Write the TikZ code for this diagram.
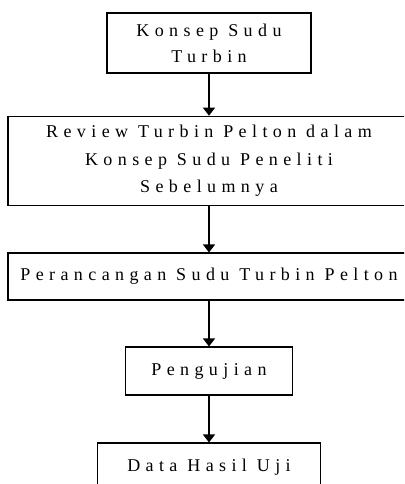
\documentclass[tikz,border=0pt]{standalone}
\usepackage{fontspec}
\setmainfont{Liberation Serif}[LetterSpace=30]
\usetikzlibrary{arrows.meta}

\tikzset{
  box/.style={draw, line width=1.1pt, align=center, inner sep=0pt, font=\fontsize{18}{26}\selectfont},
  flow/.style={-{Triangle[width=12pt,length=8pt]}, line width=1.1pt}
}

\begin{document}
\begin{tikzpicture}[x=1pt, y=-1pt]

% Frame
\useasboundingbox (0, 0) rectangle (404, 484);
\clip (0, 0) rectangle (404, 484);

% Boxes
\node[box, minimum width=204pt, minimum height=60pt] (konsep) at (209, 43) {Konsep Sudu\\Turbin};
\node[box, minimum width=402pt, minimum height=89.5pt, font=\fontsize{18}{27.5}\selectfont] (review) at (209, 161) {Review Turbin Pelton dalam\\Konsep Sudu Peneliti\\Sebelumnya};
\node[box, minimum width=402pt, minimum height=47pt] (rancang) at (209, 276.5) {Perancangan Sudu Turbin Pelton};
\node[box, minimum width=167pt, minimum height=48pt] (uji) at (209, 371) {Pengujian};
\node[box, minimum width=223pt, minimum height=48pt] (data) at (209, 467) {Data Hasil Uji};

% Arrows
\draw[flow] (konsep) -- (review);
\draw[flow] (review) -- (rancang);
\draw[flow] (rancang) -- (uji);
\draw[flow] (uji) -- (data);

\end{tikzpicture}
\end{document}
